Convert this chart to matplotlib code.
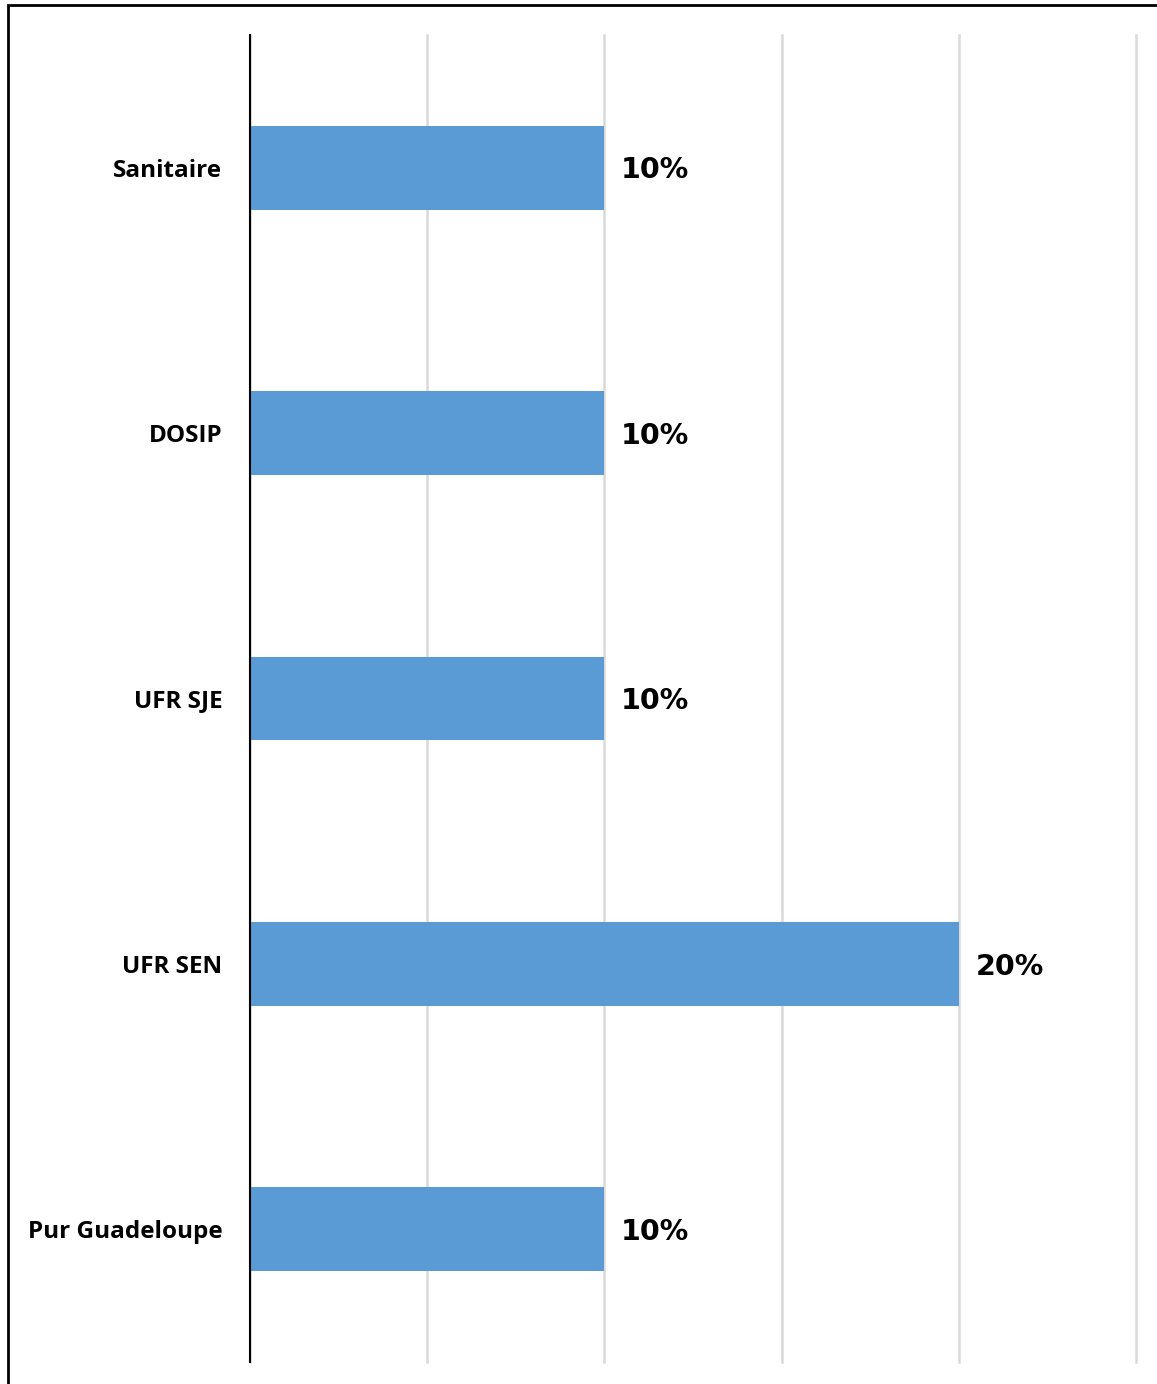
import matplotlib
matplotlib.use("Agg")
import matplotlib.pyplot as plt
from matplotlib.patches import Rectangle

# data
categories = ["Sanitaire", "DOSIP", "UFR SJE", "UFR SEN", "Pur Guadeloupe"]
values = [0.10, 0.10, 0.10, 0.20, 0.10]
labels = ["10%", "10%", "10%", "20%", "10%"]
xticks = [0.0, 0.05, 0.10, 0.15, 0.20, 0.25]

W, H = 1157, 1384
fig = plt.figure(figsize=(W/100, H/100), dpi=100)
fig.patch.set_facecolor("white")

# outer frame (runs off right / bottom edge like the original)
fig.add_artist(Rectangle((8/W, -0.01), 1.2, (H-5)/H + 0.01, transform=fig.transFigure,
                         fill=False, edgecolor="black", linewidth=2))

ax = fig.add_axes([250/W, (H-1362)/H, 886/W, 1327/H])
ypos = list(range(len(categories)))
ax.barh(ypos, values, height=0.315, color="#5B9BD5", zorder=3)
ax.set_ylim(len(categories) - 0.5, -0.5)
ax.set_xlim(0, 0.25)
ax.set_xticks(xticks)
ax.set_yticks(ypos)
ax.set_yticklabels(categories, fontsize=17.5, fontweight="bold", fontfamily="Open Sans")
ax.tick_params(axis="y", length=0, pad=20)
ax.tick_params(axis="x", length=0, labelbottom=False)
ax.grid(axis="x", color="#D9D9D9", linewidth=1.8, zorder=0)
for gl in ax.get_xgridlines():
    gl.set_clip_on(False)
for s in ["top", "right", "bottom"]:
    ax.spines[s].set_visible(False)
ax.spines["left"].set_linewidth(1.5)
ax.spines["left"].set_zorder(4)

for y, v, t in zip(ypos, values, labels):
    ax.annotate(t, (v, y), xytext=(12, -2), textcoords="offset points",
                va="center", ha="left", fontsize=20.5, fontweight="heavy",
                fontfamily="DejaVu Sans")

fig.savefig("out.png", dpi=100)
